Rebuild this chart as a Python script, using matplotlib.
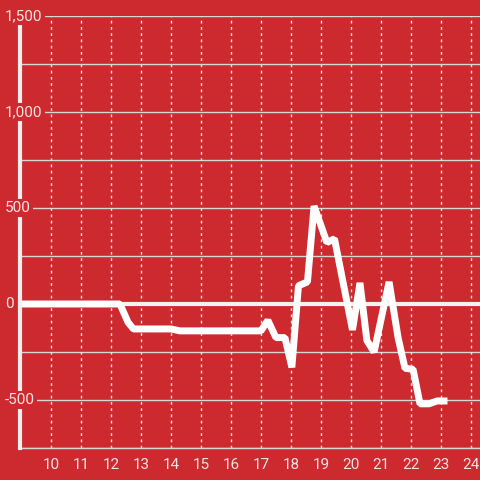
import matplotlib
matplotlib.use("Agg")
import matplotlib.pyplot as plt

# Daten
x_vals = [9.0, 12.3, 12.57, 12.75, 14.0, 14.3, 17.0, 17.23, 17.5, 17.8,
          18.03, 18.25, 18.55, 18.77, 19.2, 19.45, 20.05, 20.3, 20.53, 20.77,
          21.27, 21.57, 21.8, 22.07, 22.3, 22.6, 22.87, 23.1]
y_vals = [0, 0, -95, -130, -130, -140, -140, -85, -175, -175,
          -330, 95, 115, 510, 320, 340, -135, 110, -190, -250,
          115, -175, -335, -340, -520, -520, -505, -505]

x_ticks = list(range(10, 25))
y_ticks = [-500, 0, 500, 1000, 1500]
y_labels = ["-500", "0", "500", "1,000", "1,500"]
y_grid = [-750, -500, -250, 0, 250, 500, 750, 1000, 1250, 1500]

bg = "#cc2a2f"
txt = "#f3e4e4"

plt.rcParams["font.family"] = ["Roboto", "DejaVu Sans"]

fig = plt.figure(figsize=(4.8, 4.8), dpi=100, facecolor=bg)
ax = fig.add_axes([20 / 480, 32 / 480, 460 / 480, 432 / 480])
ax.set_facecolor(bg)
ax.set_xlim(8.97, 24.3)
ax.set_ylim(-750, 1500)

# Raster
for gy in y_grid:
    if gy == 0:
        continue
    ax.axhline(gy, color="#d6d6d6", lw=1, zorder=1)
for gx in x_ticks:
    ax.axvline(gx, color="#f0e6e6", lw=1, linestyle=(0, (2, 2.5)), zorder=1)
ax.axhline(0, color="#f7f2f2", lw=3, zorder=2)

# Linie
ax.plot(x_vals, y_vals, color="white", lw=5, solid_joinstyle="bevel", zorder=3)

for s in ["top", "right"]:
    ax.spines[s].set_visible(False)
ax.spines["bottom"].set_color("#d6d6d6")
ax.spines["bottom"].set_linewidth(1)
ax.spines["left"].set_color("#f2eeee")
ax.spines["left"].set_linewidth(3)
ax.spines["left"].set_zorder(4)

ax.set_xticks(x_ticks)
ax.set_xticklabels([str(t) for t in x_ticks])
ax.tick_params(axis="x", length=0, pad=7, labelsize=11, labelcolor=txt)
ax.set_yticks([])

# Y-Beschriftungen mit Hintergrund über der Achse
for val, lab in zip(y_ticks, y_labels):
    ax.text(-15 / 460, val, lab, transform=ax.get_yaxis_transform(),
            ha="left", va="center", fontsize=11, color=txt, zorder=10, clip_on=False,
            bbox=dict(facecolor=bg, edgecolor="none", pad=1.5))

fig.savefig("out.png", dpi=100, facecolor=bg)
